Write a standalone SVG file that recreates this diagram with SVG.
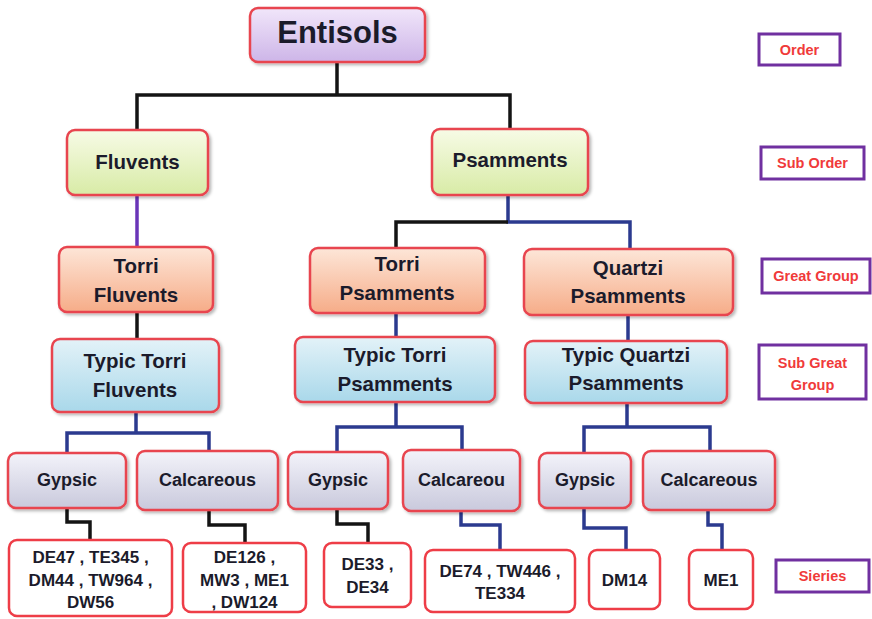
<svg xmlns="http://www.w3.org/2000/svg" width="872" height="619" viewBox="0 0 872 619">
<style>
text{font-family:"Liberation Sans",Arial,sans-serif;font-weight:bold;text-anchor:middle;fill:#1b1b2b}
.n{stroke:#e8454f;stroke-width:2.5}
.s{fill:#fff;stroke:#ee3d47;stroke-width:2.5}
.t20{font-size:20.5px}
.t18{font-size:18px}
.t16{font-size:17px}
.lg rect{fill:#fff;stroke:#7030a0;stroke-width:3}
.lg text{fill:#f03a3a;font-size:14.5px}
.c{fill:none;stroke-width:3.5;stroke-linejoin:miter}
.k{stroke:#141414}
.b{stroke:#2b3a8f}
.p{stroke:#6a35b8}
</style>
<defs>
<linearGradient id="gP" x1="0" y1="0" x2="0" y2="1"><stop offset="0" stop-color="#f1e6fa"/><stop offset="1" stop-color="#cdb5e8"/></linearGradient>
<linearGradient id="gG" x1="0" y1="0" x2="0" y2="1"><stop offset="0" stop-color="#f7fbe6"/><stop offset="1" stop-color="#d8eba6"/></linearGradient>
<linearGradient id="gO" x1="0" y1="0" x2="0" y2="1"><stop offset="0" stop-color="#fde6d8"/><stop offset="1" stop-color="#f6ac88"/></linearGradient>
<linearGradient id="gB" x1="0" y1="0" x2="0" y2="1"><stop offset="0" stop-color="#e3f2f8"/><stop offset="1" stop-color="#a9d8ea"/></linearGradient>
<linearGradient id="gL" x1="0" y1="0" x2="0" y2="1"><stop offset="0" stop-color="#f3f3fa"/><stop offset="1" stop-color="#c9c9dc"/></linearGradient>
<filter id="sh" x="-10%" y="-10%" width="130%" height="130%"><feDropShadow dx="2" dy="2" stdDeviation="1.5" flood-color="#000" flood-opacity="0.28"/></filter>
</defs>

<g id="connectors">
<path class="c k" d="M137,130 V95 H510 V129 M337,62 V95"/>
<path class="c p" d="M137,195 V247"/>
<path class="c b" d="M508,195 V222 H630 V249"/>
<path class="c k" d="M508,222 H396 V248"/>
<path class="c k" d="M137,312 V339"/>
<path class="c b" d="M396,313 V337"/>
<path class="c b" d="M628,315 V341"/>
<path class="c b" d="M136,412 V433 M67,453 V433 H209 V451"/>
<path class="c b" d="M396,402 V427 M337,452 V427 H462 V450"/>
<path class="c b" d="M627,403 V427 M584,453 V427 H710 V451"/>
<path class="c k" d="M67,508 V522 H90 V540"/>
<path class="c k" d="M209,510 V525 H245 V543"/>
<path class="c k" d="M337,509 V524 H368 V543"/>
<path class="c b" d="M461,511 V525 H500 V550"/>
<path class="c b" d="M584,508 V528 H626 V550"/>
<path class="c b" d="M708,510 V525 H722 V550"/>
</g>

<g id="entisols"><rect class="n" x="250" y="8" width="175" height="54" rx="8" fill="url(#gP)" filter="url(#sh)"/><text x="337.5" y="43" style="font-size:31px">Entisols</text></g>

<g id="fluvents"><rect class="n" x="67" y="130" width="141" height="65" rx="8" fill="url(#gG)" filter="url(#sh)"/><text class="t20" x="137.5" y="169">Fluvents</text></g>
<g id="psamments"><rect class="n" x="432" y="129" width="156" height="66" rx="8" fill="url(#gG)" filter="url(#sh)"/><text class="t20" x="510" y="167">Psamments</text></g>

<g id="torri-fluvents"><rect class="n" x="59" y="247" width="154" height="65" rx="8" fill="url(#gO)" filter="url(#sh)"/><text class="t20" x="136" y="273">Torri</text><text class="t20" x="136" y="302">Fluvents</text></g>
<g id="torri-psamments"><rect class="n" x="310" y="248" width="175" height="65" rx="8" fill="url(#gO)" filter="url(#sh)"/><text class="t20" x="397" y="271">Torri</text><text class="t20" x="397" y="300">Psamments</text></g>
<g id="quartzi-psamments"><rect class="n" x="524" y="249" width="209" height="66" rx="8" fill="url(#gO)" filter="url(#sh)"/><text class="t20" x="628" y="275">Quartzi</text><text class="t20" x="628" y="303">Psamments</text></g>

<g id="typic-torri-fluvents"><rect class="n" x="52" y="339" width="167" height="73" rx="8" fill="url(#gB)" filter="url(#sh)"/><text class="t20" x="135" y="368">Typic Torri</text><text class="t20" x="135" y="397">Fluvents</text></g>
<g id="typic-torri-psamments"><rect class="n" x="295" y="337" width="200" height="65" rx="8" fill="url(#gB)" filter="url(#sh)"/><text class="t20" x="395" y="362">Typic Torri</text><text class="t20" x="395" y="391">Psamments</text></g>
<g id="typic-quartzi-psamments"><rect class="n" x="525" y="341" width="202" height="62" rx="8" fill="url(#gB)" filter="url(#sh)"/><text class="t20" x="626" y="362">Typic Quartzi</text><text class="t20" x="626" y="390">Psamments</text></g>

<g id="gypsic-1"><rect class="n" x="8" y="453" width="118" height="55" rx="8" fill="url(#gL)" filter="url(#sh)"/><text class="t18" x="67" y="486">Gypsic</text></g>
<g id="calcareous-1"><rect class="n" x="137" y="451" width="141" height="59" rx="8" fill="url(#gL)" filter="url(#sh)"/><text class="t18" x="207.5" y="486">Calcareous</text></g>
<g id="gypsic-2"><rect class="n" x="288" y="452" width="100" height="57" rx="8" fill="url(#gL)" filter="url(#sh)"/><text class="t18" x="338" y="486">Gypsic</text></g>
<g id="calcareou-2"><rect class="n" x="403" y="450" width="117" height="61" rx="8" fill="url(#gL)" filter="url(#sh)"/><text class="t18" x="461.5" y="486">Calcareou</text></g>
<g id="gypsic-3"><rect class="n" x="539" y="453" width="92" height="55" rx="8" fill="url(#gL)" filter="url(#sh)"/><text class="t18" x="585" y="486">Gypsic</text></g>
<g id="calcareous-3"><rect class="n" x="643" y="451" width="132" height="59" rx="8" fill="url(#gL)" filter="url(#sh)"/><text class="t18" x="709" y="486">Calcareous</text></g>

<g id="series-1"><rect class="s" x="9" y="540" width="163" height="76" rx="8"/><text class="t16" x="90.5" y="563">DE47 , TE345 ,</text><text class="t16" x="90.5" y="586">DM44 , TW964 ,</text><text class="t16" x="90.5" y="608">DW56</text></g>
<g id="series-2"><rect class="s" x="183" y="543" width="123" height="69" rx="8"/><text class="t16" x="244.5" y="563">DE126 ,</text><text class="t16" x="244.5" y="586">MW3 , ME1</text><text class="t16" x="244.5" y="608">, DW124</text></g>
<g id="series-3"><rect class="s" x="324" y="543" width="87" height="64" rx="8"/><text class="t16" x="367.5" y="570">DE33 ,</text><text class="t16" x="367.5" y="593">DE34</text></g>
<g id="series-4"><rect class="s" x="425" y="550" width="150" height="62" rx="8"/><text class="t16" x="500" y="577">DE74 , TW446 ,</text><text class="t16" x="500" y="599">TE334</text></g>
<g id="series-5"><rect class="s" x="589" y="550" width="71" height="59" rx="8"/><text class="t16" x="624.5" y="586">DM14</text></g>
<g id="series-6"><rect class="s" x="689" y="550" width="64" height="59" rx="8"/><text class="t16" x="721" y="586">ME1</text></g>

<g id="legend-order" class="lg"><rect x="759" y="34" width="81" height="31"/><text x="799.5" y="55">Order</text></g>
<g id="legend-suborder" class="lg"><rect x="761" y="147" width="103" height="32"/><text x="812.5" y="168">Sub Order</text></g>
<g id="legend-greatgroup" class="lg"><rect x="762" y="259" width="108" height="34"/><text x="816" y="281">Great Group</text></g>
<g id="legend-subgreatgroup" class="lg"><rect x="759" y="345" width="107" height="54"/><text x="812.5" y="368">Sub Great</text><text x="812.5" y="390">Group</text></g>
<g id="legend-series" class="lg"><rect x="776" y="560" width="93" height="32"/><text x="822.5" y="581">Sieries</text></g>
</svg>
